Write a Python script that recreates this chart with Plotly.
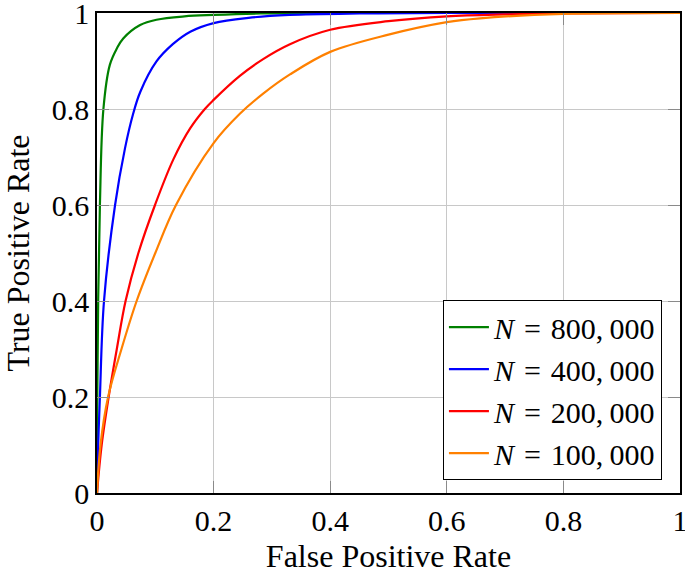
import plotly.graph_objects as go

# ROC curve data
fpr_800k = [0, 0.0005, 0.002, 0.005, 0.011, 0.022, 0.034, 0.045, 0.074, 0.102, 0.15, 0.2, 0.28, 0.4, 0.6, 1.0]
tpr_800k = [0, 0.2, 0.4, 0.6, 0.8, 0.892, 0.926, 0.947, 0.975, 0.986, 0.993, 0.996, 0.999, 1.0, 1.0, 1.0]

fpr_400k = [0, 0.002, 0.005, 0.012, 0.031, 0.048, 0.062, 0.074, 0.102, 0.13, 0.16, 0.2, 0.26, 0.33, 0.45, 0.6, 1.0]
tpr_400k = [0, 0.1, 0.2, 0.4, 0.6, 0.718, 0.79, 0.835, 0.899, 0.935, 0.961, 0.979, 0.99, 0.996, 0.999, 1.0, 1.0]

fpr_200k = [0, 0.008, 0.02, 0.034, 0.049, 0.071, 0.0995, 0.131, 0.16, 0.185, 0.2, 0.245, 0.285, 0.331, 0.4, 0.5, 0.6, 0.7, 0.8, 1.0]
tpr_200k = [0, 0.1, 0.2, 0.3, 0.4, 0.5, 0.6, 0.695, 0.76, 0.8, 0.819, 0.869, 0.904, 0.935, 0.965, 0.983, 0.993, 0.997, 0.999, 1.0]

fpr_100k = [0, 0.006, 0.019, 0.042, 0.068, 0.1, 0.1355, 0.2, 0.245, 0.285, 0.331, 0.4, 0.5, 0.6, 0.657, 0.8, 1.0]
tpr_100k = [0, 0.1, 0.2, 0.3, 0.4, 0.5, 0.6, 0.729, 0.79, 0.832, 0.872, 0.919, 0.955, 0.981, 0.989, 0.998, 1.0]

series_names = ["<i>N</i>\u2004=\u2004800,\u2009000", "<i>N</i>\u2004=\u2004400,\u2009000",
                "<i>N</i>\u2004=\u2004200,\u2009000", "<i>N</i>\u2004=\u2004100,\u2009000"]
series_colors = ["#008000", "#0000ff", "#ff0000", "#ff8000"]

tick_vals = [0, 0.2, 0.4, 0.6, 0.8, 1]
tick_text = ["0", "0.2", "0.4", "0.6", "0.8", "1"]

FONT = "Liberation Serif"

fig = go.Figure()
for name, color, xs, ys in zip(series_names, series_colors,
                               [fpr_800k, fpr_400k, fpr_200k, fpr_100k],
                               [tpr_800k, tpr_400k, tpr_200k, tpr_100k]):
    fig.add_trace(go.Scatter(x=xs, y=ys, mode="lines", name=name,
                             line=dict(color=color, width=2.2, shape="spline", smoothing=1.0)))

axis_common = dict(
    range=[0, 1.00001],
    tickvals=tick_vals,
    ticktext=tick_text,
    showgrid=True,
    gridcolor="#c8c8c8",
    gridwidth=1,
    showline=True,
    linecolor="black",
    linewidth=1.5,
    mirror="allticks",
    ticks="inside",
    ticklen=12,
    tickcolor="#8a8a8a",
    tickwidth=1,
    zeroline=False,
    ticklabeloverflow="allow",
    tickfont=dict(family=FONT, size=30, color="black"),
)

fig.update_layout(
    width=685,
    height=574,
    margin=dict(l=97, r=5, t=13, b=81),
    paper_bgcolor="white",
    plot_bgcolor="white",
    font=dict(family=FONT, size=30, color="black"),
    xaxis=dict(axis_common, title=dict(text="False Positive Rate",
                                       font=dict(family=FONT, size=32, color="black"), standoff=24),
               automargin=False),
    yaxis=dict(axis_common, title=dict(text="True Positive Rate",
                                       font=dict(family=FONT, size=32, color="black"), standoff=14),
               automargin=False),
    legend=dict(
        x=0.969, y=0.027, xanchor="right", yanchor="bottom",
        bgcolor="white", bordercolor="black", borderwidth=1,
        font=dict(family=FONT, size=30, color="black"),
        itemwidth=40,
    ),
    showlegend=True,
)

fig.write_html("out.html", config={"displayModeBar": False},
               post_script="document.body.style.margin='0px';")
